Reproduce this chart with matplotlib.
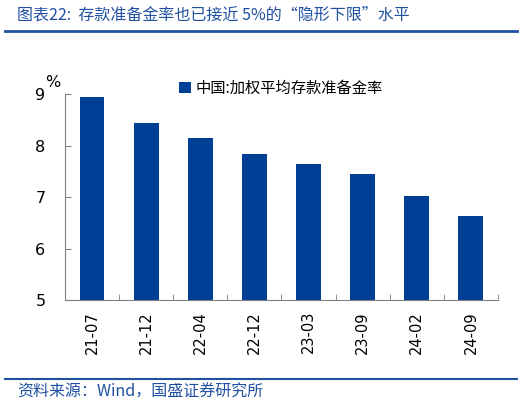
import matplotlib.pyplot as plt
from matplotlib.lines import Line2D

plt.rcParams['font.family'] = ['Noto Sans CJK SC', 'DejaVu Sans']

# data
months = ['21-07', '21-12', '22-04', '22-12', '23-03', '23-09', '24-02', '24-09']
rrr = [8.95, 8.45, 8.15, 7.85, 7.65, 7.45, 7.03, 6.63]
y_ticks = [5, 6, 7, 8, 9]

bar_color = '#003F96'
accent = '#1F50A2'

fig = plt.figure(figsize=(5.32, 4.03), dpi=100)
ax = fig.add_axes([0.122, 0.2556, 0.814, 0.51])

x = list(range(len(months)))
ax.bar(x, rrr, width=0.46, color=bar_color, label='中国:加权平均存款准备金率', zorder=2)

ax.set_ylim(5, 9)
ax.set_xlim(-0.5, len(months) - 0.5)
ax.set_yticks(y_ticks)
ax.set_yticklabels([str(t) for t in y_ticks], family='DejaVu Sans', fontsize=11.5)
ax.tick_params(axis='y', direction='in', length=4, color='#808080', pad=14)

# category boundary ticks on the x axis
ax.set_xticks([i + 0.5 for i in x[:-1]] + [len(months) - 0.5], minor=True)
ax.set_xticks(x)
ax.set_xticklabels(months, rotation=90, family='DejaVu Sans', fontsize=10.5)
ax.tick_params(axis='x', which='major', length=0, pad=8)
ax.tick_params(axis='x', which='minor', direction='in', length=4, color='#808080')

for side in ['top', 'right']:
    ax.spines[side].set_visible(False)
for side in ['left', 'bottom']:
    ax.spines[side].set_color('#808080')
    ax.spines[side].set_linewidth(0.8)

ax.text(-0.028, 1.02, '%', transform=ax.transAxes, fontsize=11.5, family='DejaVu Sans',
        ha='center', va='bottom')

leg = ax.legend(loc='upper left', bbox_to_anchor=(0.25, 1.1), frameon=False,
                fontsize=11, handlelength=0.75, handleheight=0.75, handletextpad=0.3,
                borderaxespad=0)

# header / footer
fig.text(0.032, 0.963, '图表22:  存款准备金率也已接近 5%的“隐形下限”水平',
         color=accent, fontsize=11.5, ha='left', va='center', style='italic')
fig.add_artist(Line2D([0.009, 0.972], [0.923, 0.923], color=accent, lw=2))
fig.add_artist(Line2D([0.009, 0.972], [0.06, 0.06], color=accent, lw=1.5))
fig.text(0.032, 0.027, '资料来源：Wind，国盛证券研究所',
         color=accent, fontsize=11.5, ha='left', va='center', style='italic')

fig.savefig('out.png', dpi=100)
